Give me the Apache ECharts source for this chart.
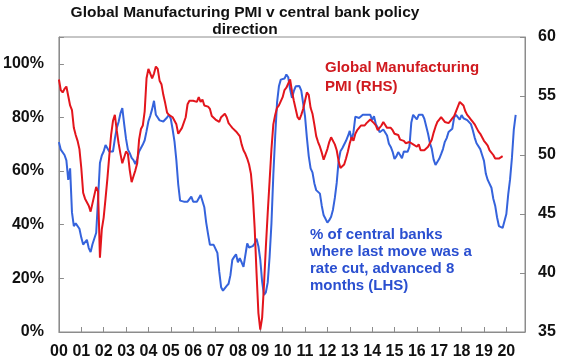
<!DOCTYPE html>
<html>
<head>
<meta charset="utf-8">
<script src="https://cdn.jsdelivr.net/npm/echarts@6/dist/echarts.min.js"></script>
<style>
html,body{margin:0;padding:0;background:#fff;}
#chart{width:570px;height:364px;}
</style>
</head>
<body>
<div id="chart"></div>
<script>
// Monthly data, starting January 2000
var startYear = 2000;
var yearLabels = ['00','01','02','03','04','05','06','07','08','09','10','11','12','13','14','15','16','17','18','19','20'];

// Global Manufacturing PMI (RHS)
var pmi = [
56.4,55.5,55.3,55.6,55.8,55.0,54.2,53.8,52.3,51.7,51.2,50.5,
48.9,46.8,46.3,46.3,45.7,45.2,45.9,46.6,47.3,46.9,41.3,43.7,
44.7,46.3,48.0,49.9,51.7,52.9,53.4,52.1,51.0,50.1,49.3,49.3,
50.3,50.1,48.7,47.7,48.2,48.7,49.3,51.3,52.2,52.5,53.7,56.5,
57.3,57.3,56.5,56.9,57.5,57.3,56.3,56.0,55.1,54.4,53.6,53.4,
53.3,53.2,53.2,52.6,51.8,51.9,52.3,52.4,53.2,54.3,54.6,54.5,
54.6,54.6,54.5,54.9,54.5,54.7,54.2,54.2,54.1,53.9,53.3,53.4,
53.0,53.1,52.8,53.2,53.2,53.5,53.2,52.7,52.5,52.3,52.2,52.0,
51.9,51.6,50.9,50.4,50.1,49.7,49.2,48.4,46.6,43.8,40.0,36.6,
35.2,36.2,39.0,42.2,45.1,47.8,50.5,52.6,53.4,54.0,54.2,54.2,
54.9,55.5,55.7,55.8,56.4,55.4,54.6,53.9,53.2,53.0,53.4,53.9,
54.6,55.3,55.1,54.0,53.5,52.6,51.6,51.1,50.7,50.2,49.6,49.7,
50.5,51.1,51.5,51.4,50.9,50.4,49.5,48.9,48.9,49.2,49.7,50.3,
51.0,51.5,51.2,51.8,52.1,52.3,52.5,52.6,52.5,52.7,52.8,53.0,
53.0,52.7,52.5,52.1,52.1,52.5,52.8,52.7,52.3,52.3,52.3,52.1,
51.8,51.7,51.7,51.3,51.3,51.2,51.0,51.0,51.1,51.0,50.9,50.8,
50.7,50.9,50.4,50.5,50.4,50.5,50.7,51.0,51.3,51.9,52.4,52.8,
53.0,53.2,53.1,52.8,52.8,52.7,52.9,53.1,53.3,53.7,54.1,54.5,
54.5,54.2,53.7,53.4,53.2,53.0,52.8,52.6,52.3,52.0,51.8,51.5,
51.2,51.0,50.8,50.4,50.3,50.0,49.7,49.6,49.7,49.8,49.9
];

// % of central banks where last move was a rate cut, advanced 8 months (LHS)
var cbCut = [
70.8,68.0,67.4,66.0,64.0,56.7,61.0,44.6,39.5,40.5,40.5,38.5,
35.2,32.6,32.5,34.4,31.3,29.8,32.7,33.2,37.0,49.8,63.0,65.8,
67.3,69.7,70.4,67.3,67.3,67.3,72.0,76.0,78.3,81.5,83.5,77.5,
72.0,68.0,66.7,64.9,64.1,62.6,64.5,67.3,68.0,69.9,71.5,74.9,
78.6,80.6,83.1,86.2,81.0,80.7,78.9,78.5,78.5,78.6,80.0,81.0,
79.5,75.5,71.0,64.0,55.0,49.0,48.6,48.6,48.6,48.6,48.6,50.5,
48.6,48.6,48.6,48.6,51.1,50.5,46.5,40.8,36.5,32.5,32.0,32.5,
32.5,29.5,22.5,16.7,15.4,15.0,17.2,18.0,21.2,26.9,28.0,29.0,
26.0,27.5,26.0,24.3,24.5,33.0,31.5,31.0,32.0,33.0,34.8,32.0,
27.0,18.8,13.8,14.8,18.5,28.0,40.5,58.5,73.0,85.5,91.6,94.1,
94.5,94.5,96.0,95.0,90.5,87.3,89.8,91.6,91.9,91.7,90.0,85.3,
80.5,72.5,65.6,61.0,59.5,55.5,52.9,53.2,51.6,47.0,43.5,42.2,
40.8,41.7,43.0,45.6,50.0,55.6,63.6,67.4,68.5,69.0,71.3,73.0,
75.0,71.5,74.5,80.3,80.8,79.8,80.5,81.0,81.0,81.0,81.0,81.0,
79.0,80.5,77.5,76.3,74.5,74.4,75.5,75.4,73.3,70.2,69.0,67.2,
64.5,65.5,67.1,66.0,64.8,67.3,67.0,67.2,69.0,78.0,81.0,81.0,
79.3,81.0,81.0,81.0,79.5,76.7,73.9,70.5,68.3,64.3,62.3,62.8,
64.6,66.3,68.2,70.9,72.3,74.6,74.8,75.8,80.0,81.0,81.0,79.2,
80.9,79.7,79.5,79.0,78.5,77.5,75.2,72.5,70.4,69.7,68.2,66.0,
63.8,59.0,56.7,56.7,53.8,49.7,47.1,42.8,39.5,38.9,38.8,38.1,
44.0,51.3,57.0,65.0,75.5,81.0
];

var leftTicks = [0, 20, 40, 60, 80, 100];
var rightTicks = [35, 40, 45, 50, 55, 60];

var titleText = 'Global Manufacturing PMI v central bank policy\ndirection';
var redLabel = 'Global Manufacturing\nPMI (RHS)';
var blueLabel = '% of central banks\nwhere last move was a\nrate cut, advanced 8\nmonths (LHS)';

function toPairs(arr) {
  return arr.map(function (v, i) { return [i, v]; });
}

var FONT = '"Liberation Sans", Arial, Helvetica, sans-serif';
var RED = '#e3151c';
var BLUE = '#3563dc';

var chart = echarts.init(document.getElementById('chart'), null, {renderer: 'canvas'});
chart.setOption({
  animation: false,
  backgroundColor: '#ffffff',
  grid: {left: 58, right: 45, top: 37, bottom: 32, show: true, borderColor: '#8c8c8c', borderWidth: 1, backgroundColor: 'transparent'},
  xAxis: {
    type: 'value', min: 0, max: 250, interval: 12,
    axisLine: {show: true, lineStyle: {color: '#8c8c8c', width: 1}},
    axisTick: {show: true, inside: true, length: 5, lineStyle: {color: '#8c8c8c'}},
    splitLine: {show: false},
    axisLabel: {
      margin: 12, color: '#111', fontSize: 16, fontWeight: 'bold', fontFamily: FONT,
      showMaxLabel: false,
      formatter: function (v) {
        if (v % 12 !== 0) return '';
        var idx = v / 12;
        return yearLabels[idx] !== undefined ? yearLabels[idx] : '';
      }
    }
  },
  yAxis: [
    {
      type: 'value', min: 0, max: 110, interval: 20, position: 'left',
      axisLine: {show: true, lineStyle: {color: '#8c8c8c', width: 1}},
      axisTick: {show: true, inside: true, length: 5, lineStyle: {color: '#8c8c8c'}},
      splitLine: {show: false},
      axisLabel: {
        margin: 15, color: '#111', fontSize: 16, fontWeight: 'bold', fontFamily: FONT,
        formatter: function (v) { return leftTicks.indexOf(v) >= 0 ? v + '%' : ''; }
      }
    },
    {
      type: 'value', min: 35, max: 60, interval: 5, position: 'right',
      axisLine: {show: true, lineStyle: {color: '#8c8c8c', width: 1}},
      axisTick: {show: true, inside: true, length: 5, lineStyle: {color: '#8c8c8c'}},
      splitLine: {show: false},
      axisLabel: {
        margin: 13, color: '#111', fontSize: 16, fontWeight: 'bold', fontFamily: FONT,
        formatter: function (v) { return rightTicks.indexOf(v) >= 0 ? String(v) : ''; }
      }
    }
  ],
  series: [
    {
      name: 'cbCut', type: 'line', yAxisIndex: 0, data: toPairs(cbCut),
      showSymbol: false, lineStyle: {color: BLUE, width: 2}, itemStyle: {color: BLUE}
    },
    {
      name: 'pmi', type: 'line', yAxisIndex: 1, data: toPairs(pmi),
      showSymbol: false, lineStyle: {color: RED, width: 2}, itemStyle: {color: RED}
    }
  ],
  graphic: [
    {
      type: 'text', x: 245, y: 4, z: 10,
      style: {text: titleText, fill: '#111', font: 'bold 15.5px ' + FONT, lineHeight: 17, align: 'center', textAlign: 'center', verticalAlign: 'top'}
    },
    {
      type: 'text', left: 325, top: 58, z: 10,
      style: {text: redLabel, fill: '#d01a1f', font: 'bold 15px ' + FONT, lineHeight: 19}
    },
    {
      type: 'text', left: 310, top: 227, z: 10,
      style: {text: blueLabel, fill: '#2a4fd0', font: 'bold 15px ' + FONT, lineHeight: 16.7}
    }
  ]
});
</script>
</body>
</html>
